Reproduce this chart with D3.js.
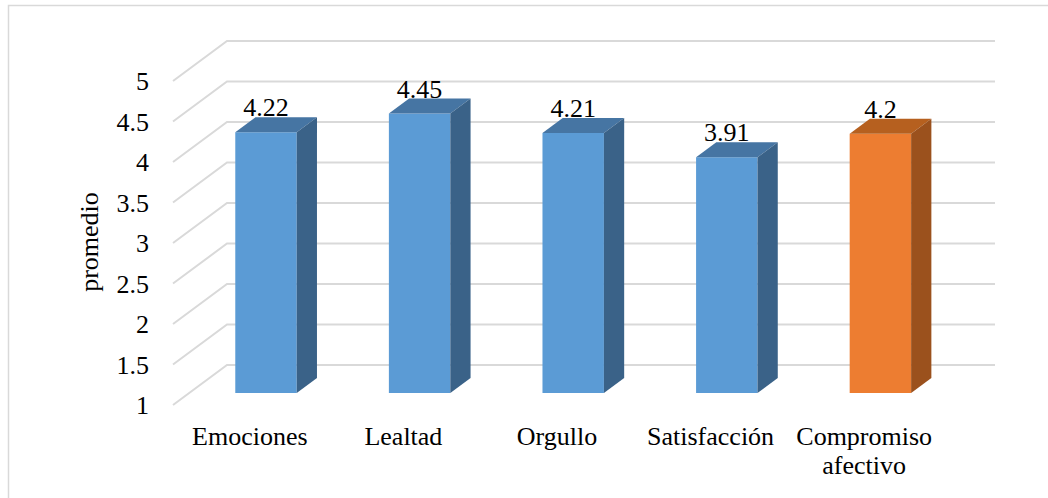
<!DOCTYPE html>
<meta charset="utf-8">

<script src="https://cdn.jsdelivr.net/npm/d3@7"></script>

<div id="my_dataviz"></div>
<style>
    body {
        margin: 0;
        background: white;
    }
</style>

<script>
    // data
    var categories = ["Emociones", "Lealtad", "Orgullo", "Satisfacción", "Compromiso afectivo"];
    var values = [4.22, 4.45, 4.21, 3.91, 4.2];
    var yTicks = [1, 1.5, 2, 2.5, 3, 3.5, 4, 4.5, 5];

    var width = 1048,
        height = 498;
    var serif = "'Liberation Serif', 'Times New Roman', Times, 'DejaVu Serif', serif";

    var svg = d3.select("#my_dataviz")
        .append("svg")
        .attr("width", width)
        .attr("height", height)
        .style("font-family", serif);

    // outer frame of the chart area
    svg.append("rect")
        .attr("x", 8.5)
        .attr("y", 5.5)
        .attr("width", 1100)
        .attr("height", 600)
        .style("fill", "none")
        .style("stroke", "#d9d9d9")
        .style("stroke-width", 1.5);

    // front plane scales (depth 0)
    var x = d3.scaleBand()
        .domain(categories)
        .range([173, 941])
        .paddingInner(0.6)
        .paddingOuter(0.3);

    var y = d3.scaleLinear()
        .domain([1, 5])
        .range([405, 81]);

    // depth -> screen offset (oblique projection)
    var depthX = 54,
        depthY = -40;
    var barFront = 0.3,
        barBack = 0.675;

    function dx(t) { return depthX * t; }
    function dy(t) { return depthY * t; }

    // gridlines: diagonal on the side wall + horizontal on the back wall
    var grid = svg.append("g")
        .style("stroke", "#d9d9d9")
        .style("stroke-width", 2)
        .style("fill", "none");

    grid.selectAll("path")
        .data(yTicks)
        .enter()
        .append("path")
        .attr("d", function(d) {
            var x0 = x.range()[0],
                x1 = x.range()[1];
            return "M" + x0 + "," + y(d) +
                "L" + (x0 + dx(1)) + "," + (y(d) + dy(1)) +
                "L" + (x1 + dx(1)) + "," + (y(d) + dy(1));
        });

    // Y tick labels
    svg.append("g")
        .selectAll("text")
        .data(yTicks)
        .enter()
        .append("text")
        .attr("x", 149)
        .attr("y", function(d) { return y(d); })
        .attr("dy", "0.35em")
        .attr("text-anchor", "end")
        .style("font-family", serif)
        .style("font-size", "26px")
        .text(function(d) { return String(d); });

    // Y axis label
    svg.append("text")
        .attr("transform", "translate(98,242) rotate(-90)")
        .attr("text-anchor", "middle")
        .style("font-family", serif)
        .style("font-size", "26px")
        .text("promedio");

    var colorFor = function(cat) {
        if (cat === "Compromiso afectivo") {
            return { front: "#ed7d31", top: "#b6601f", side: "#9b511d" };
        }
        return { front: "#5b9bd5", top: "#4675a3", side: "#3a6288" };
    };

    var data = categories.map(function(c, i) {
        return { cat: c, value: values[i] };
    });

    var bars = svg.append("g")
        .selectAll("g")
        .data(data)
        .enter()
        .append("g");

    // front face
    bars.append("path")
        .style("fill", function(d) { return colorFor(d.cat).front; })
        .attr("d", function(d) {
            var xl = x(d.cat) + dx(barFront),
                xr = xl + x.bandwidth(),
                yt = y(d.value) + dy(barFront),
                yb = y(1) + dy(barFront);
            return "M" + xl + "," + yb + "L" + xl + "," + yt +
                "L" + xr + "," + yt + "L" + xr + "," + yb + "Z";
        });

    // top face
    bars.append("path")
        .style("fill", function(d) { return colorFor(d.cat).top; })
        .attr("d", function(d) {
            var xl = x(d.cat),
                xr = xl + x.bandwidth(),
                yv = y(d.value);
            return "M" + (xl + dx(barFront)) + "," + (yv + dy(barFront)) +
                "L" + (xl + dx(barBack)) + "," + (yv + dy(barBack)) +
                "L" + (xr + dx(barBack)) + "," + (yv + dy(barBack)) +
                "L" + (xr + dx(barFront)) + "," + (yv + dy(barFront)) + "Z";
        });

    // right side face
    bars.append("path")
        .style("fill", function(d) { return colorFor(d.cat).side; })
        .attr("d", function(d) {
            var xr = x(d.cat) + x.bandwidth(),
                yv = y(d.value),
                y0 = y(1);
            return "M" + (xr + dx(barFront)) + "," + (yv + dy(barFront)) +
                "L" + (xr + dx(barBack)) + "," + (yv + dy(barBack)) +
                "L" + (xr + dx(barBack)) + "," + (y0 + dy(barBack)) +
                "L" + (xr + dx(barFront)) + "," + (y0 + dy(barFront)) + "Z";
        });

    // value labels above each bar
    bars.append("text")
        .attr("x", function(d) { return x(d.cat) + x.bandwidth() / 2 + dx(barFront); })
        .attr("y", function(d) { return y(d.value) + dy(barBack) - 1; })
        .attr("text-anchor", "middle")
        .style("font-family", serif)
        .style("font-size", "26px")
        .text(function(d) { return String(d.value); });

    // category labels, wrapped when wider than a band step
    var catLabels = svg.append("g")
        .selectAll("text")
        .data(categories)
        .enter()
        .append("text")
        .attr("text-anchor", "middle")
        .attr("x", function(d) { return x(d) + x.bandwidth() / 2; })
        .attr("y", 445)
        .style("font-family", serif)
        .style("font-size", "26px")
        .text(function(d) { return d; });

    catLabels.each(function(d) {
        var t = d3.select(this);
        if (this.getComputedTextLength() > x.step()) {
            var cx = t.attr("x");
            t.text(null);
            d.split(" ").forEach(function(w, i) {
                t.append("tspan")
                    .attr("x", cx)
                    .attr("dy", i === 0 ? 0 : 29)
                    .text(w);
            });
        }
    });
</script>
